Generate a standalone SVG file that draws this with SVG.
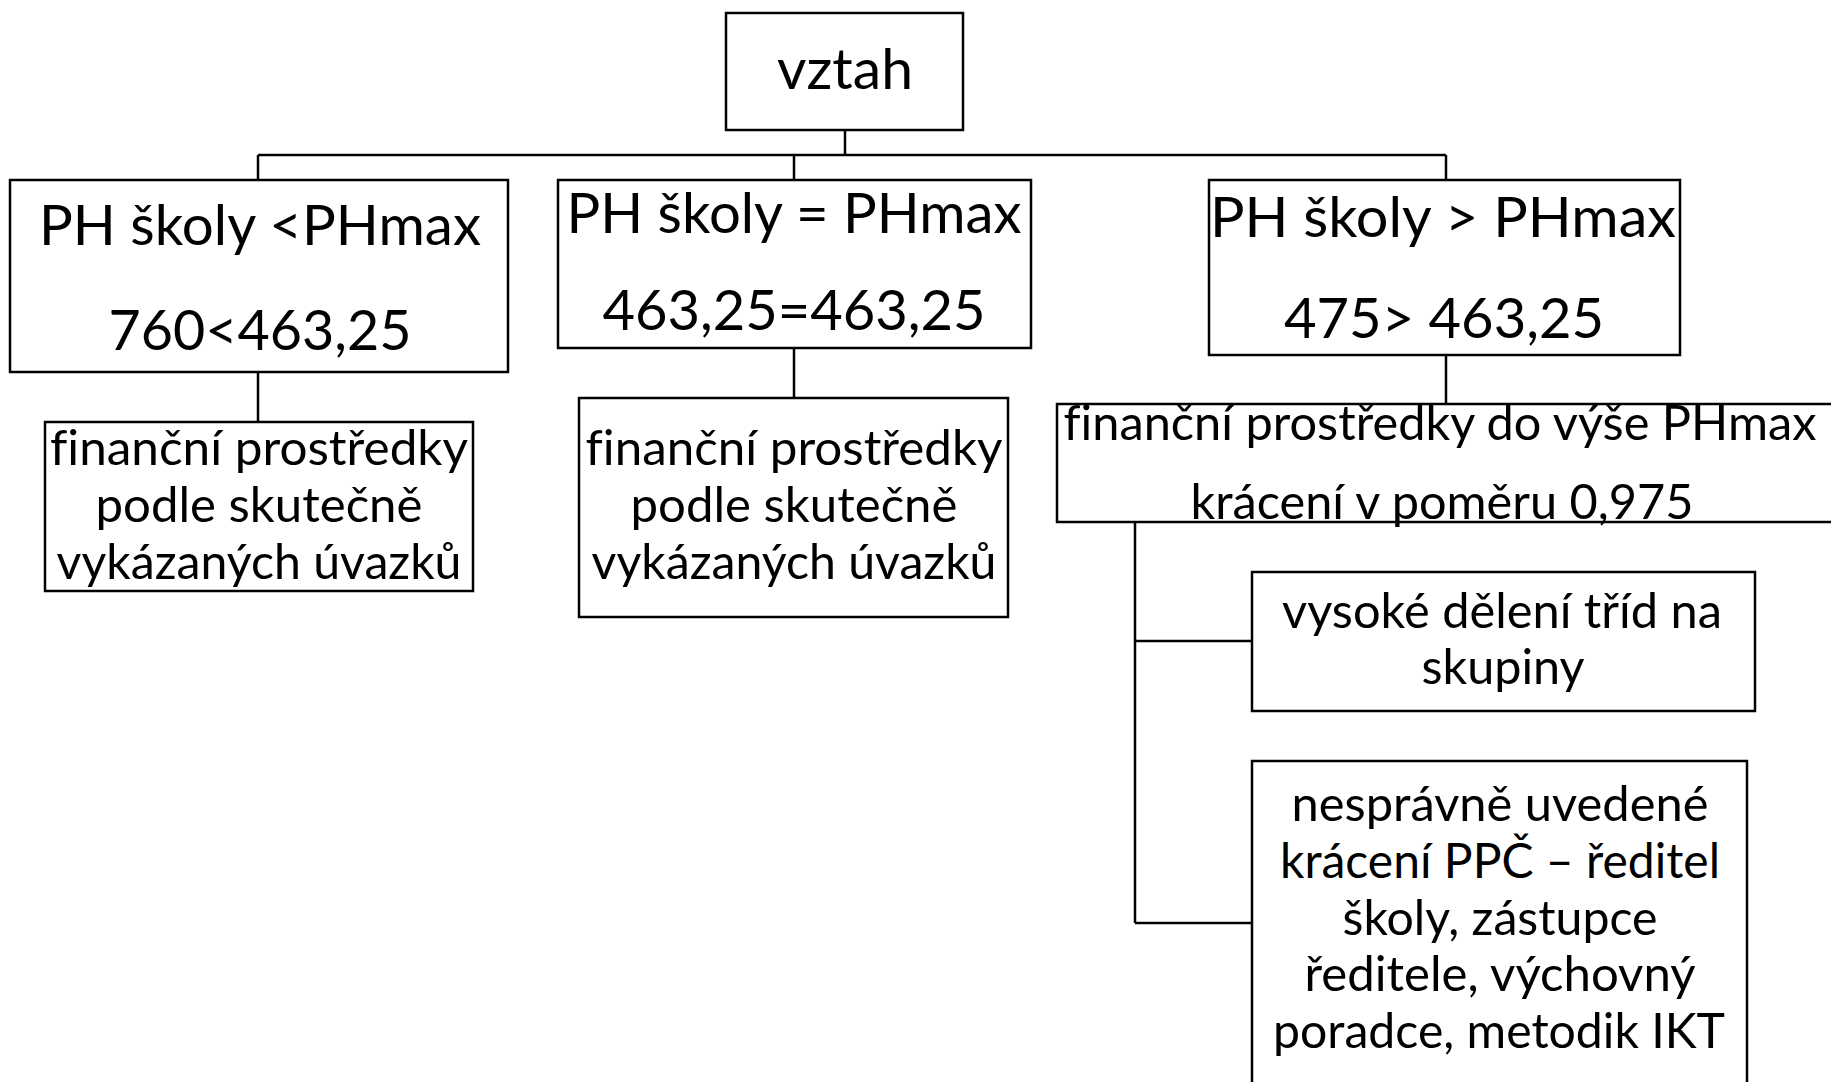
<svg xmlns="http://www.w3.org/2000/svg" width="1831" height="1082" viewBox="0 0 1831 1082">
<style>
rect{fill:#fff;stroke:#000;stroke-width:2.5}
line{stroke:#000;stroke-width:2.5}
text{font-family:Lato,"Liberation Sans",sans-serif;fill:#000;text-anchor:middle;font-variant-ligatures:none}
.b{font-size:56px}
.s{font-size:48px}
</style>
<rect x="0" y="0" width="1831" height="1082" style="stroke:none"/>
<g id="connectors">
<line x1="845" y1="130" x2="845" y2="155"/>
<line x1="258" y1="155" x2="1446" y2="155"/>
<line x1="258" y1="155" x2="258" y2="180"/>
<line x1="794" y1="155" x2="794" y2="180"/>
<line x1="1446" y1="155" x2="1446" y2="180"/>
<line x1="258" y1="372" x2="258" y2="422"/>
<line x1="794" y1="348" x2="794" y2="398"/>
<line x1="1446" y1="355" x2="1446" y2="404"/>
<line x1="1135" y1="522" x2="1135" y2="923"/>
<line x1="1135" y1="641" x2="1252" y2="641"/>
<line x1="1135" y1="923" x2="1252" y2="923"/>
</g>
<g id="vztah">
<rect x="726" y="13" width="237" height="117"/>
<text class="b" x="845" y="89" textLength="136" lengthAdjust="spacingAndGlyphs">vztah</text>
</g>
<g id="mensi">
<rect x="10" y="180" width="498" height="192"/>
<text class="b" x="260" y="245" textLength="442" lengthAdjust="spacingAndGlyphs">PH školy &lt;PHmax</text>
<text class="b" x="260" y="350" textLength="303" lengthAdjust="spacingAndGlyphs">760&lt;463,25</text>
</g>
<g id="rovno">
<rect x="558" y="180" width="473" height="168"/>
<text class="b" x="794" y="233" textLength="455" lengthAdjust="spacingAndGlyphs">PH školy = PHmax</text>
<text class="b" x="794" y="330" textLength="383" lengthAdjust="spacingAndGlyphs">463,25=463,25</text>
</g>
<g id="vetsi">
<rect x="1209" y="180" width="471" height="175"/>
<text class="b" x="1443" y="237" textLength="466" lengthAdjust="spacingAndGlyphs">PH školy &gt; PHmax</text>
<text class="b" x="1444" y="338" textLength="320" lengthAdjust="spacingAndGlyphs">475&gt; 463,25</text>
</g>
<g id="fin1">
<rect x="45" y="422" width="428" height="169"/>
<text class="s" x="259" y="465" textLength="418" lengthAdjust="spacingAndGlyphs">finanční prostředky</text>
<text class="s" x="259" y="522" textLength="327" lengthAdjust="spacingAndGlyphs">podle skutečně</text>
<text class="s" x="259" y="579" textLength="405" lengthAdjust="spacingAndGlyphs">vykázaných úvazků</text>
</g>
<g id="fin2">
<rect x="579" y="398" width="429" height="219"/>
<text class="s" x="794" y="465" textLength="417" lengthAdjust="spacingAndGlyphs">finanční prostředky</text>
<text class="s" x="794" y="522" textLength="327" lengthAdjust="spacingAndGlyphs">podle skutečně</text>
<text class="s" x="794" y="579" textLength="405" lengthAdjust="spacingAndGlyphs">vykázaných úvazků</text>
</g>
<g id="fin3">
<rect x="1057" y="404" width="800" height="118"/>
<text class="s" x="1440" y="440" textLength="753" lengthAdjust="spacingAndGlyphs">finanční prostředky do výše PHmax</text>
<text class="s" x="1442" y="519" textLength="503" lengthAdjust="spacingAndGlyphs">krácení v poměru 0,975</text>
</g>
<g id="deleni">
<rect x="1252" y="572" width="503" height="139"/>
<text class="s" x="1502" y="628" textLength="440" lengthAdjust="spacingAndGlyphs">vysoké dělení tříd na</text>
<text class="s" x="1503" y="684" textLength="163" lengthAdjust="spacingAndGlyphs">skupiny</text>
</g>
<g id="kraceni">
<rect x="1252" y="761" width="495" height="345"/>
<text class="s" x="1500" y="821" textLength="417" lengthAdjust="spacingAndGlyphs">nesprávně uvedené</text>
<text class="s" x="1500" y="878" textLength="440" lengthAdjust="spacingAndGlyphs">krácení PPČ – ředitel</text>
<text class="s" x="1500" y="935" textLength="315" lengthAdjust="spacingAndGlyphs">školy, zástupce</text>
<text class="s" x="1500" y="991" textLength="391" lengthAdjust="spacingAndGlyphs">ředitele, výchovný</text>
<text class="s" x="1499" y="1048" textLength="452" lengthAdjust="spacingAndGlyphs">poradce, metodik IKT</text>
</g>
</svg>
